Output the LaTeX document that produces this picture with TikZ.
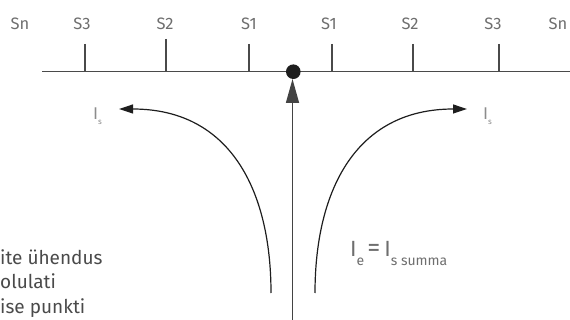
\documentclass[tikz,border=0pt]{standalone}
\usepackage{fontspec}
\setmainfont{Fira Sans}
\usetikzlibrary{arrows.meta}
\definecolor{linegray}{HTML}{4A4A4A}
\definecolor{txtgray}{HTML}{6E6E6E}
\definecolor{lightgray}{HTML}{8C8C8C}
\definecolor{curveblack}{HTML}{1E1E1E}
\tikzset{
  slabel/.style={text=txtgray, font=\fontsize{16.5}{16.5}\selectfont, inner sep=0pt},
  tickline/.style={draw=linegray, line width=1.3pt},
  curvearrow/.style={draw=curveblack, line width=1.2pt, -{Triangle[length=14pt,width=9pt]}},
  mainarrow/.style={draw=linegray!90!black, line width=1.5pt, -{Triangle[length=24pt,width=13pt]}},
  islabel/.style={text=lightgray, inner sep=0pt, anchor=base west},
  noteline/.style={text=linegray, font=\fontsize{19}{19}\selectfont, inner sep=0pt, anchor=base west}
}
\begin{document}
\begin{tikzpicture}[x=1pt,y=-1pt]
\useasboundingbox (0,0) rectangle (570,320);
% baseline
\coordinate (bl) at (42,71.7);
\coordinate (br) at (572,71.7);
\draw[tickline] (bl) -- (br);
% ticks
\foreach \n/\x/\t in {t1/85/44, t2/166/39, t3/249/44, t4/332/44, t5/413/44, t6/499/44}{
  \coordinate (\n top) at (\x,\t);
  \coordinate (\n bot) at (\x,71.7);
  \draw[tickline] (\n top) -- (\n bot);
}
% labels
\node[slabel] (snl) at (20,24) {Sn};
\node[slabel] (s3l) at (82,24) {S3};
\node[slabel] (s2l) at (165,24) {S2};
\node[slabel] (s1l) at (249,24) {S1};
\node[slabel] (s1r) at (329,24) {S1};
\node[slabel] (s2r) at (410,24) {S2};
\node[slabel] (s3r) at (493,24) {S3};
\node[slabel] (snr) at (558,24) {Sn};
% dot
\node[circle, fill=curveblack, minimum size=14.6pt, inner sep=0pt] (dot) at (293.3,71.7) {};
% main vertical arrow
\coordinate (mbot) at (292.5,322);
\coordinate (mtop) at (292.5,79);
\draw[mainarrow] (mbot) -- (mtop);
% curves
\coordinate (lstart) at (271,293);
\coordinate (lend) at (119,109);
\coordinate (rstart) at (315,293);
\coordinate (rend) at (467,109);
\draw[curvearrow] (lstart) .. controls (271,190) and (230,109) .. (lend);
\draw[curvearrow] (rstart) .. controls (315,190) and (356,109) .. (rend);
% I_s labels
\node[islabel] (isl) at (93,119.5) {\fontsize{17}{17}\selectfont I\raisebox{-5pt}{\fontsize{8}{8}\selectfont s}};
\node[islabel] (isr) at (483,119.5) {\fontsize{17}{17}\selectfont I\raisebox{-5pt}{\fontsize{8}{8}\selectfont s}};
% I_e = I_s summa
\node[islabel, text=txtgray] (ie) at (350,257) {\fontsize{22}{22}\selectfont I\raisebox{-9pt}{\fontsize{14}{14}\selectfont e}\kern3pt{\fontsize{26}{26}\selectfont =}\kern4ptI\raisebox{-9pt}{\fontsize{14}{14}\selectfont s summa}};
% bottom-left text
\node[noteline] (n1) at (0,265) {ite ühendus};
\node[noteline] (n2) at (0,289) {olulati};
\node[noteline] (n3) at (0,313) {ise punkti};
\end{tikzpicture}
\end{document}
